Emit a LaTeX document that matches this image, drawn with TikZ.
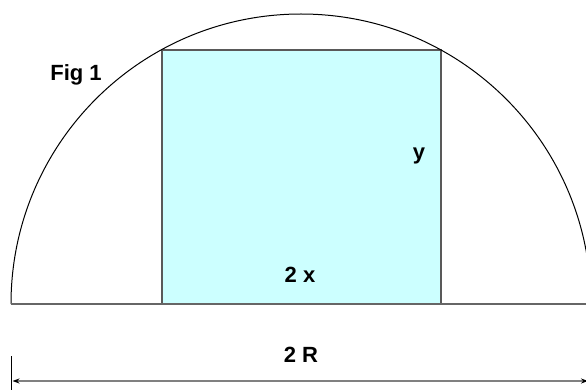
\documentclass[tikz,border=0pt]{standalone}
\usepackage{fontspec}
\setmainfont{Liberation Sans}
\usetikzlibrary{arrows.meta}
\definecolor{boxfill}{HTML}{CCFFFF}
\tikzset{
  lbl/.style={font=\fontsize{22}{26}\selectfont\bfseries, inner sep=0pt, anchor=base},
  arcline/.style={draw=black, line width=1pt},
  baseln/.style={draw=black!60, line width=1.5pt},
  dimln/.style={draw=black!50, line width=1.6pt},
  boxst/.style={fill=boxfill, draw=black!65, line width=1.5pt}
}
\begin{document}
\begin{tikzpicture}[x=1pt,y=-1pt]
\clip (0,0) rectangle (586,390);
\fill[white] (0,0) rectangle (586,390);
\coordinate (L) at (11,304);
\coordinate (Rt) at (600,304);
\coordinate (BL) at (162,304);
\coordinate (TR) at (441,50);
\draw[boxst] (BL) rectangle (TR);
\draw[arcline] (L) arc[start angle=180, end angle=360, radius=290];
\draw[baseln] (L) -- (Rt);
\coordinate (T1) at (11.5,356);
\coordinate (T2) at (11.5,392);
\draw[draw=black, line width=1.2pt] (T1) -- (T2);
\coordinate (A1) at (12.5,381);
\coordinate (A2) at (588,381);
\draw[dimln, {Stealth[black,length=7pt,width=5pt]}-{Stealth[black,length=7pt,width=5pt]}] (A1) -- (A2);
\node[lbl] (fig) at (76,81) {Fig 1};
\node[lbl] (y) at (419,160) {y};
\node[lbl] (x) at (300,282) {2 x};
\node[lbl] (r) at (301,362) {2 R};
\end{tikzpicture}
\end{document}
